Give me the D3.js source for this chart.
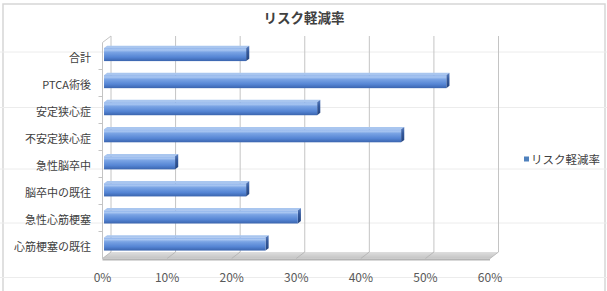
<!DOCTYPE html>
<html>
<head>
<meta charset="utf-8">
<script src="https://cdn.jsdelivr.net/npm/d3@7"></script>
<style>
  html, body { margin: 0; padding: 0; background: #fff; }
  svg { display: block; font-family: "Noto Sans CJK JP", "Noto Sans", sans-serif; }
</style>
</head>
<body>
<div id="chart"></div>
<script>
const chartTitle = 'リスク軽減率';
const seriesName = 'リスク軽減率';
const categories = ['合計', 'PTCA術後', '安定狭心症', '不安定狭心症', '急性脳卒中', '脳卒中の既往', '急性心筋梗塞', '心筋梗塞の既往'];
const values = [0.22, 0.53, 0.33, 0.46, 0.11, 0.22, 0.30, 0.25];
const xTicks = [0, 0.1, 0.2, 0.3, 0.4, 0.5, 0.6];
// faint sheet rows showing behind the chart
const sheetRows = [52, 107.5, 169, 223, 277.5];

const width = 607, height = 291;
const back = { x: 111, y: 36 };        // back wall origin (top-left)
const plotW = 387.5, plotH = 216;
const depth = { dx: -8.5, dy: 6.5 };   // back -> front offset

const svg = d3.select('#chart').append('svg')
  .attr('width', width)
  .attr('height', height);

const defs = svg.append('defs');
const faceGrad = defs.append('linearGradient').attr('id', 'face').attr('x1', 0).attr('y1', 0).attr('x2', 0).attr('y2', 1);
[['0%', '#86ade9'], ['14%', '#abc8f2'], ['32%', '#79a3e4'], ['70%', '#5585d4'], ['100%', '#3a64ae']]
  .forEach(([o, c]) => faceGrad.append('stop').attr('offset', o).attr('stop-color', c));
const capGrad = defs.append('linearGradient').attr('id', 'cap').attr('x1', 0).attr('y1', 0).attr('x2', 0).attr('y2', 1);
[['0%', '#5a7fc0'], ['40%', '#34599c'], ['100%', '#24447e']]
  .forEach(([o, c]) => capGrad.append('stop').attr('offset', o).attr('stop-color', c));
const floorGrad = defs.append('linearGradient').attr('id', 'floor').attr('x1', 0).attr('y1', 0).attr('x2', 0).attr('y2', 1);
[['0%', '#dedede'], ['100%', '#c4c4c4']]
  .forEach(([o, c]) => floorGrad.append('stop').attr('offset', o).attr('stop-color', c));

// chart area
svg.append('rect')
  .attr('x', 3).attr('y', 4).attr('width', 602).attr('height', 290)
  .attr('fill', '#fff').attr('stroke', '#d6d6d6').attr('stroke-width', 1.5);

svg.append('g').selectAll('line').data(sheetRows).join('line')
  .attr('x1', 0).attr('x2', width)
  .attr('y1', d => d).attr('y2', d => d)
  .attr('stroke', '#ececec').attr('stroke-width', 1);

const x = d3.scaleLinear().domain([0, 0.6]).range([0, plotW]);
const y = d3.scaleBand().domain(categories).range([0, plotH]).paddingInner(0.52).paddingOuter(0.25);
const rows = d3.scaleBand().domain(categories).range([0, plotH]);

// project a point: xv, yv in plot units, t = 0 at back wall, 1 at front
const P = (xv, yv, t) => [back.x + xv + t * depth.dx, back.y + yv + t * depth.dy];
const poly = pts => pts.map(p => p.join(',')).join(' ');

// title
svg.append('text')
  .attr('x', 304).attr('y', 23)
  .attr('text-anchor', 'middle')
  .attr('font-size', 13.5).attr('font-weight', 'bold')
  .attr('fill', '#404040')
  .text(chartTitle);

// back wall grid
svg.append('g').selectAll('line').data(xTicks).join('line')
  .attr('x1', d => P(x(d), 0, 0)[0]).attr('x2', d => P(x(d), plotH, 0)[0])
  .attr('y1', d => P(x(d), 0, 0)[1]).attr('y2', d => P(x(d), plotH, 0)[1])
  .attr('stroke', '#c4c4c4').attr('stroke-width', 1);

// left wall edges
svg.append('polyline')
  .attr('points', poly([P(0, plotH, 1), P(0, 0, 1), P(0, 0, 0)]))
  .attr('fill', 'none').attr('stroke', '#c4c4c4').attr('stroke-width', 1);

// left axis tick marks at row boundaries
svg.append('g').selectAll('line').data(categories.slice(1)).join('line')
  .attr('x1', d => P(0, rows(d), 1)[0] - 4).attr('x2', d => P(0, rows(d), 1)[0])
  .attr('y1', d => P(0, rows(d), 1)[1]).attr('y2', d => P(0, rows(d), 1)[1])
  .attr('stroke', '#c4c4c4');

// floor
svg.append('polygon')
  .attr('points', poly([P(0, plotH, 0), P(plotW, plotH, 0), P(plotW, plotH, 1), P(0, plotH, 1)]))
  .attr('fill', 'url(#floor)');
svg.append('polygon')
  .attr('points', poly([P(0, plotH, 1), P(plotW, plotH, 1), [P(plotW, plotH, 1)[0], P(plotW, plotH, 1)[1] + 2], [P(0, plotH, 1)[0], P(0, plotH, 1)[1] + 2]]))
  .attr('fill', '#b4b4b4');
svg.append('g').selectAll('line').data(xTicks).join('line')
  .attr('x1', d => P(x(d), plotH, 0)[0]).attr('x2', d => P(x(d), plotH, 1)[0])
  .attr('y1', d => P(x(d), plotH, 0)[1]).attr('y2', d => P(x(d), plotH, 1)[1])
  .attr('stroke', '#b0b0b0').attr('stroke-width', 0.8);

// x tick labels
svg.append('g').selectAll('text').data(xTicks).join('text')
  .attr('x', d => P(x(d), plotH, 1)[0])
  .attr('y', 281.5)
  .attr('text-anchor', 'middle')
  .attr('font-size', 12)
  .attr('fill', '#595959')
  .text(d3.format('.0%'));

// category labels
svg.append('g').selectAll('text').data(categories).join('text')
  .attr('x', 91)
  .attr('y', d => P(0, rows(d) + rows.bandwidth() / 2, 1)[1] + 5.5)
  .attr('text-anchor', 'end')
  .attr('font-size', 11)
  .attr('fill', '#404040')
  .text(d => d);

// 3D bars
const tf = 0.82, tb = 0.45;
const bars = svg.append('g').selectAll('g').data(categories.map((c, i) => ({ c, v: values[i] }))).join('g');

bars.append('polygon') // top face
  .attr('points', d => poly([P(0, y(d.c), tf), P(x(d.v), y(d.c), tf), P(x(d.v), y(d.c), tb), P(0, y(d.c), tb)]))
  .attr('fill', '#a9c6ef');

bars.append('polygon') // end cap
  .attr('points', d => poly([P(x(d.v), y(d.c), tf), P(x(d.v), y(d.c), tb), P(x(d.v), y(d.c) + y.bandwidth(), tb), P(x(d.v), y(d.c) + y.bandwidth(), tf)]))
  .attr('fill', 'url(#cap)');

bars.append('rect') // front face
  .attr('x', d => P(0, y(d.c), tf)[0])
  .attr('y', d => P(0, y(d.c), tf)[1])
  .attr('width', d => x(d.v))
  .attr('height', y.bandwidth())
  .attr('fill', 'url(#face)');

// legend
svg.append('rect')
  .attr('x', 524).attr('y', 156.5).attr('width', 5).attr('height', 5)
  .attr('fill', '#4f81bd');
svg.append('text')
  .attr('x', 531).attr('y', 163.5)
  .attr('font-size', 11.5)
  .attr('fill', '#404040')
  .text(seriesName);
</script>
</body>
</html>
